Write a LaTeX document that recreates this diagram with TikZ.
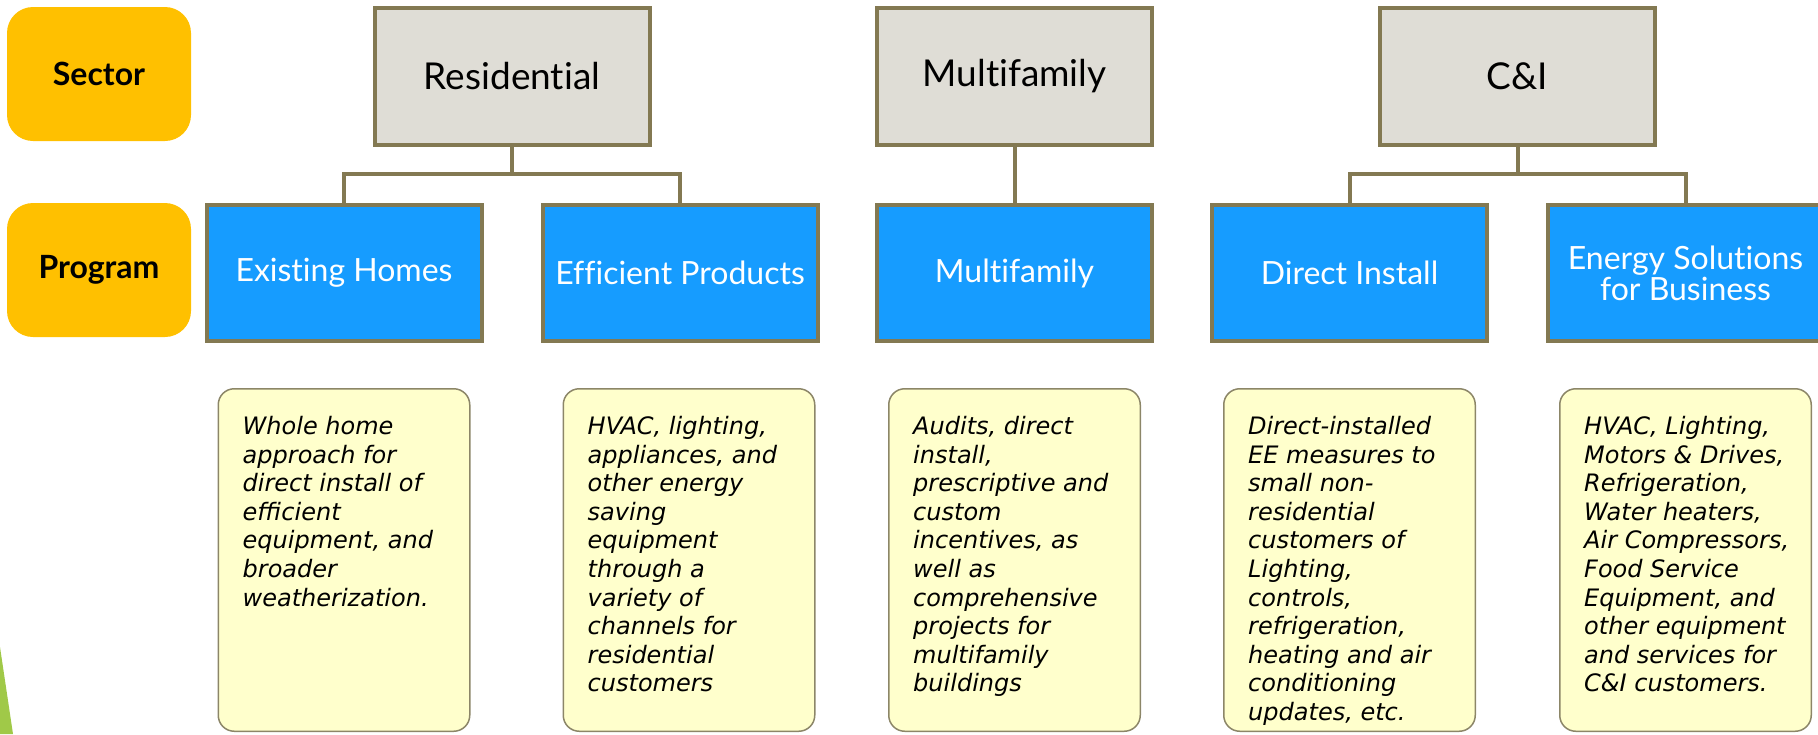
\documentclass[tikz,border=0pt]{standalone}
\usepackage{fontspec}
\setmainfont{Lato}[Ligatures=NoCommon]
\newfontfamily\notefont{DejaVu Sans}
\usetikzlibrary{positioning}
\definecolor{lgrey}{RGB}{223,221,214}
\definecolor{lblue}{RGB}{22,156,255}
\definecolor{gold}{RGB}{255,192,0}
\definecolor{olive}{RGB}{131,121,82}
\definecolor{lyellow}{RGB}{255,255,204}
\definecolor{notedraw}{RGB}{140,134,104}
\definecolor{lgreen}{RGB}{160,201,72}

\begin{document}
\begin{tikzpicture}[x=1pt,y=1pt,level distance=196.5pt,level 1/.style={sibling distance=336pt},edge from parent/.style={draw=olive,line width=4pt},edge from parent path={(\tikzparentnode.south) -- ++(0,-27) -| (\tikzchildnode.north)},node distance=45pt]
      \tikzstyle{sectorbox}=[rectangle,fill=lgrey,draw=olive,line width=4pt,minimum width=275pt,minimum height=137pt,font=\fontsize{37}{40}\selectfont]
      \tikzstyle{programbox}=[rectangle,fill=lblue,draw=olive,line width=4pt,minimum width=275pt,minimum height=136pt,text=white,align=center,font=\fontsize{32}{31}\selectfont]
      \tikzstyle{tagbox}=[rectangle,rounded corners=26pt,fill=gold,minimum width=184pt,minimum height=134pt,font=\bfseries\fontsize{32}{36}\selectfont]
      \tikzstyle{notebox}=[rectangle,rounded corners=16pt,fill=lyellow,draw=notedraw,line width=1.5pt,minimum width=251.5pt,minimum height=342.5pt]
      \tikzstyle{notetext}=[anchor=north west,inner sep=0pt,align=left,font=\notefont\itshape\fontsize{24}{28.6}\selectfont]
      \useasboundingbox (0,0) rectangle (1818,-734);
      \fill[lgreen] (0,-647) -- (13,-734) -- (0,-734) -- cycle;
      % row labels
      \node [tagbox] (tsec) at (99,-74) {Sector};
      \node [tagbox] (tprog) at (99,-270) {Program};
      % sectors and programs
      \node [sectorbox] (res) at (512,-76.5) {Residential}
	child {
	node [programbox] (eh) {Existing Homes}
	}
	child {
	node [programbox] (ep) {Efficient Products}
	};
      \node [sectorbox] (mf) at (1014.5,-76.5) {Multifamily}
	child {
	node [programbox] (mfp) {Multifamily}
	};
      \node [sectorbox] (ci) at (1517.5,-76.5) {C\&I}
	child {
	node [programbox] (di) {Direct Install}
	}
	child {
	node [programbox] (es) {Energy Solutions\\for Business}
	};
      % descriptions
      \node [notebox,below=45pt of eh] (neh) {};
      \node [notebox,below=45pt of ep,xshift=9pt] (nep) {};
      \node [notebox,below=45pt of mfp] (nmf) {};
      \node [notebox,below=45pt of di] (ndi) {};
      \node [notebox,below=45pt of es] (nes) {};
      \node [notetext] (teh) at ([shift={(25,-28)}]neh.north west) {Whole home\\approach for\\direct install of\\efficient\\equipment, and\\broader\\weatherization.};
      \node [notetext] (tep) at ([shift={(25,-28)}]nep.north west) {HVAC, lighting,\\appliances, and\\other energy\\saving\\equipment\\through a\\variety of\\channels for\\residential\\customers};
      \node [notetext] (tmf) at ([shift={(25,-28)}]nmf.north west) {Audits, direct\\install,\\prescriptive and\\custom\\incentives, as\\well as\\comprehensive\\projects for\\multifamily\\buildings};
      \node [notetext] (tdi) at ([shift={(25,-28)}]ndi.north west) {Direct-installed\\EE measures to\\small non-\\residential\\customers of\\Lighting,\\controls,\\refrigeration,\\heating and air\\conditioning\\updates, etc.};
      \node [notetext] (tes) at ([shift={(25,-28)}]nes.north west) {HVAC, Lighting,\\Motors \& Drives,\\Refrigeration,\\Water heaters,\\Air Compressors,\\Food Service\\Equipment, and\\other equipment\\and services for\\C\&I customers.};
  \end{tikzpicture}
\end{document}
